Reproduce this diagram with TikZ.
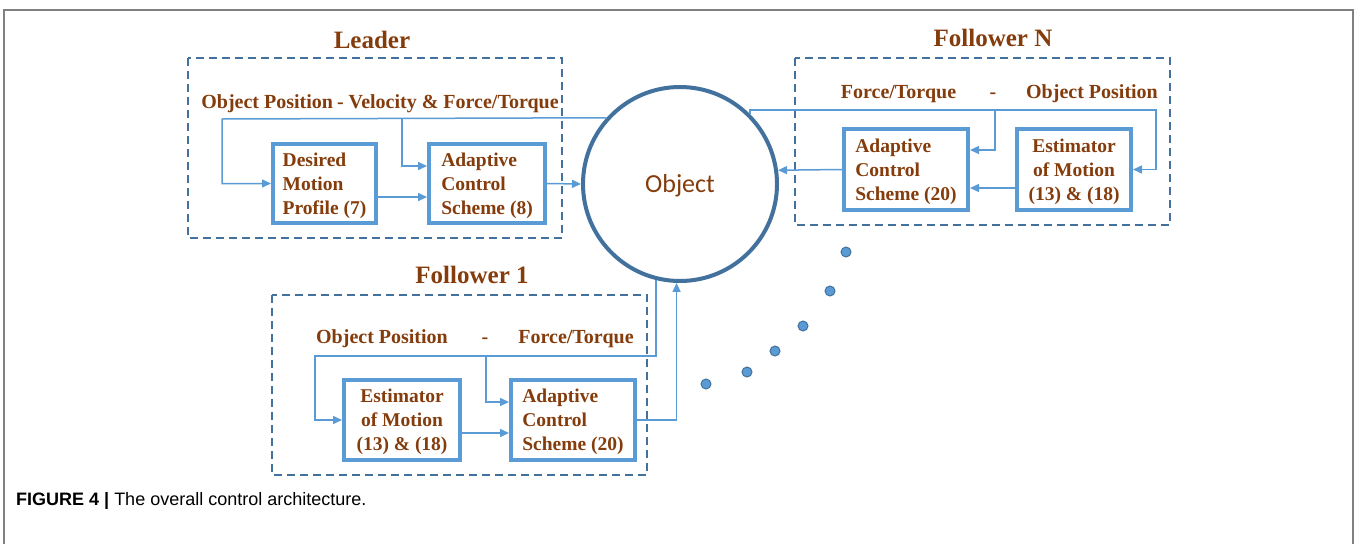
\documentclass[tikz,border=0pt]{standalone}
\usepackage{fontspec}
\setmainfont{Liberation Serif}
\newfontfamily\objfont{Carlito}
\newfontfamily\capfont{Liberation Sans}
\usetikzlibrary{arrows.meta,positioning}
\definecolor{boxblue}{HTML}{5B9BD5}
\definecolor{darkblue}{HTML}{41719C}
\definecolor{txtbrown}{HTML}{843C0C}
\definecolor{framegray}{HTML}{808080}

\begin{document}
\begin{tikzpicture}[x=1pt,y=-1pt]
        \tikzstyle{block} = [draw=boxblue,line width=4pt,inner sep=2pt,text=txtbrown,
          font=\fontsize{19.5}{24}\selectfont\bfseries,text depth=0pt]
        \tikzstyle{group} = [draw=darkblue,line width=2.5pt,dash pattern=on 8pt off 5pt]
        \tikzstyle{title} = [text=txtbrown,font=\fontsize{25}{30}\selectfont\bfseries]
        \tikzstyle{signal} = [text=txtbrown,font=\fontsize{20}{24}\selectfont\bfseries,inner sep=0pt,
          text height=14pt,text depth=4pt]
        \tikzstyle{flow} = [draw=boxblue,line width=1.5pt,-{Triangle[length=9pt,width=8pt]}]
        \tikzstyle{dot} = [draw=darkblue,fill=boxblue,circle,line width=1pt,inner sep=0pt,minimum size=10pt]
        \useasboundingbox (0,0) rectangle (1360,544);
        % frame and caption
        \draw[framegray,line width=2pt] (4,544) -- (4,10) -- (1353,10) -- (1353,544);
        \node[anchor=base west,inner sep=0pt,font=\capfont\fontsize{18}{22}\selectfont] (cap) at (16,505)
          {\textbf{FIGURE 4 |} The overall control architecture.};
        % object
        \node[draw=darkblue,line width=4pt,circle,minimum size=194pt,inner sep=0pt] (obj) at (680,184) {};
        \node[text=txtbrown,font=\objfont\fontsize{26}{30}\selectfont,inner sep=0pt] (objtxt) at (680,186) {Object};
        % leader
        \draw[group] (188,58) rectangle (562,238);
        \node[title] (leader) at (372,40) {Leader};
        \node[signal] (sigL) at (380,103) {Object Position\hspace{4pt}- Velocity \& Force/Torque};
        \node[block,minimum width=103pt,minimum height=79pt,align=left] (dmp) at (324.5,183.5)
          {Desired\\Motion\\Profile (7)};
        \node[block,minimum width=116pt,minimum height=79pt,align=left] (acsL) at (487,183.5)
          {Adaptive\\Control\\Scheme (8)};
        \coordinate (tapL) at (402,119);
        \draw[flow] (obj.138) -- (222,119) |- (dmp.west);
        \draw[flow] (tapL) |- ([yshift=17.5pt]acsL.west);
        \draw[flow] ([yshift=-13.5pt]dmp.east) -- ([yshift=-13.5pt]acsL.west);
        \draw[flow] (acsL.east) -- (obj.180);
        % follower N
        \draw[group] (795,58) rectangle (1170,225);
        \node[title] (follN) at (993,38) {Follower N};
        \node[signal] (sigNa) at (898.5,93) {Force/Torque};
        \node[signal] (sigNb) at (993,93) {-};
        \node[signal] (sigNc) at (1092,93) {Object Position};
        \node[block,minimum width=124pt,minimum height=81pt,align=left] (acsN) at (906,169.5)
          {Adaptive\\Control\\Scheme (20)};
        \node[block,minimum width=114pt,minimum height=81pt,align=center] (estN) at (1074,169.5)
          {Estimator\\of Motion\\(13) \& (18)};
        \coordinate (tapN) at (995,110);
        \draw[flow] (obj.45) |- (1156,110) |- (estN.east);
        \draw[flow] (tapN) |- ([yshift=19.5pt]acsN.east);
        \draw[flow] ([yshift=-18.5pt]estN.west) -- ([yshift=-18.5pt]acsN.east);
        \draw[flow] (acsN.west) -- (obj.8.6);
        % follower 1
        \draw[group] (272,295) rectangle (647,475);
        \node[title] (foll1) at (472,275) {Follower 1};
        \node[signal] (sig1a) at (382,338) {Object Position};
        \node[signal] (sig1b) at (485,338) {-};
        \node[signal] (sig1c) at (576,338) {Force/Torque};
        \node[block,minimum width=116pt,minimum height=80pt,align=center] (est1) at (402,420)
          {Estimator\\of Motion\\(13) \& (18)};
        \node[block,minimum width=124pt,minimum height=80pt,align=left] (acs1) at (573,420)
          {Adaptive\\Control\\Scheme (20)};
        \coordinate (tap1) at (486,356);
        \draw[flow] (obj.256.9) |- (315,356) |- (est1.west);
        \draw[flow] (tap1) |- ([yshift=18pt]acs1.west);
        \draw[flow] ([yshift=-13pt]est1.east) -- ([yshift=-13pt]acs1.west);
        \draw[flow] (acs1.east) -| (obj.268.8);
        % dots towards the other followers
        \foreach \x/\y [count=\i] in {846/252,830/291,803/326,775/351,747/372,706/384}{
          \node[dot] (d\i) at (\x,\y) {};
        }
      \end{tikzpicture}
\end{document}
